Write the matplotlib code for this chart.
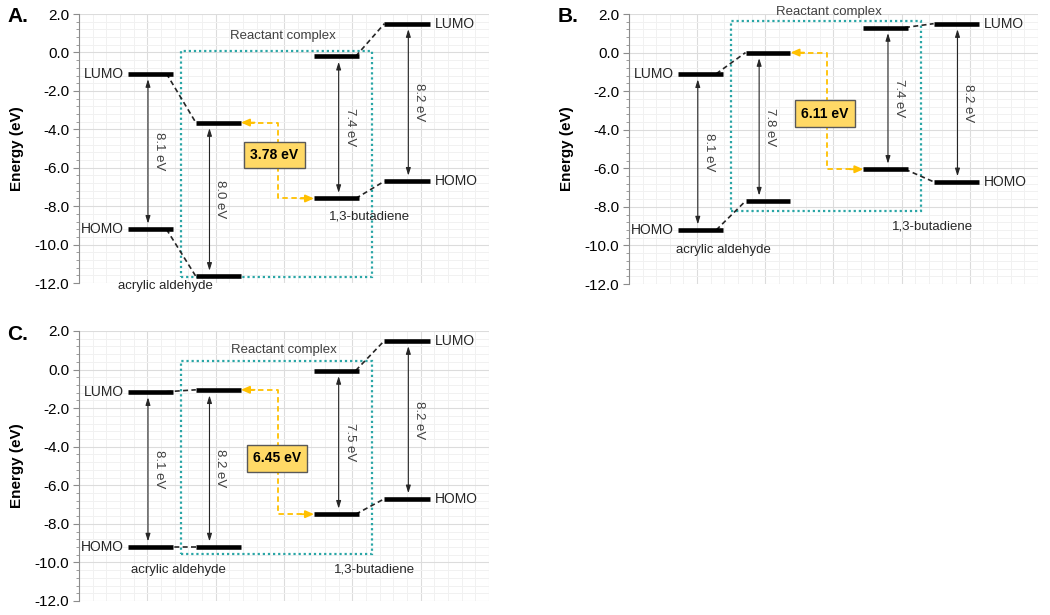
import matplotlib.pyplot as plt
from matplotlib.patches import Rectangle
from matplotlib.ticker import MultipleLocator, FormatStrFormatter

plt.rcParams["font.family"] = ["Liberation Sans", "DejaVu Sans"]
plt.rcParams["axes.unicode_minus"] = False

# energy levels (eV), one entry per panel A, B, C
panel_names = ["A.", "B.", "C."]
acrylic_lumo = [-1.1, -1.1, -1.15]
acrylic_homo = [-9.2, -9.2, -9.2]
complex_acr_lumo = [-3.65, 0.0, -1.05]
complex_acr_homo = [-11.65, -7.7, -9.2]
complex_but_lumo = [-0.2, 1.3, -0.05]
complex_but_homo = [-7.6, -6.05, -7.5]
butadiene_lumo = [1.5, 1.5, 1.5]
butadiene_homo = [-6.7, -6.7, -6.7]

acrylic_gap = ["8.1 eV", "8.1 eV", "8.1 eV"]
complex_acr_gap = ["8.0 eV", "7.8 eV", "8.2 eV"]
complex_but_gap = ["7.4 eV", "7.4 eV", "7.5 eV"]
butadiene_gap = ["8.2 eV", "8.2 eV", "8.2 eV"]
transfer_gap = ["3.78 eV", "6.11 eV", "6.45 eV"]

# layout per panel
axes_rects = [
    [0.0752, 0.5398, 0.3905, 0.4374],
    [0.5990, 0.5382, 0.3895, 0.4390],
    [0.0752, 0.0228, 0.3905, 0.4390],
]
letter_pos = [(18, 16), (568, 16), (18, 334)]
layout = [
    dict(react=(2.99, 0.85), acr=(1.26, -12.15), but=(4.25, -8.52),
         box=(0.07, -11.7), tbox=(2.86, -5.34)),
    dict(react=(2.93, 2.12), acr=(1.38, -10.24), but=(4.46, -9.04),
         box=(1.65, -8.2), tbox=(2.87, -3.16)),
    dict(react=(3.0, 1.0), acr=(1.45, -10.41), but=(4.32, -10.35),
         box=(0.45, -9.58), tbox=(2.9, -4.61)),
]

BAR_X = [1.05, 2.04, 3.77, 4.80]
ARROW_X = [1.01, 1.91, 3.80, 4.82]
HALF = 0.33
TEXT = "#262626"
LEVEL_KW = dict(color="black", lw=3.3, capstyle="butt", zorder=5)


def setup_axes(ax):
    ax.set_xlim(0, 6)
    ax.set_ylim(-12, 2)
    ax.xaxis.set_major_locator(MultipleLocator(1))
    ax.xaxis.set_minor_locator(MultipleLocator(0.2))
    ax.yaxis.set_major_locator(MultipleLocator(2))
    ax.yaxis.set_minor_locator(MultipleLocator(0.4))
    ax.yaxis.set_major_formatter(FormatStrFormatter("%.1f"))
    ax.grid(which="major", color="#dcdcdc", lw=0.8)
    ax.grid(which="minor", color="#f1f1f1", lw=0.7)
    ax.set_axisbelow(True)
    for s in ["top", "right", "bottom"]:
        ax.spines[s].set_visible(False)
    ax.spines["left"].set_color("#8c8c8c")
    ax.tick_params(axis="x", which="both", length=0, labelbottom=False)
    ax.tick_params(axis="y", which="major", length=4, color="#8c8c8c",
                   labelsize=11, labelcolor="black", pad=3)
    ax.tick_params(axis="y", which="minor", length=2.5, color="#8c8c8c")


def gap_arrow(ax, x, top, bottom, label):
    ax.annotate("", xy=(x, bottom), xytext=(x, top),
                arrowprops=dict(arrowstyle="<|-|>,head_length=0.45,head_width=0.14",
                                color="#262626", lw=0.8, shrinkA=4, shrinkB=4),
                zorder=4)
    ax.text(x + 0.16, (top + bottom) / 2, label, rotation=-90,
            ha="center", va="center", fontsize=9.5, color="#404040")


def dashed_link(ax, x0, y0, x1, y1):
    ax.plot([x0, x1], [y0, y1], color="#262626", ls=(0, (3, 2)), lw=1.2, zorder=4)


def draw_panel(ax, i):
    setup_axes(ax)
    lay = layout[i]
    levels = [
        (acrylic_lumo[i], acrylic_homo[i], acrylic_gap[i]),
        (complex_acr_lumo[i], complex_acr_homo[i], complex_acr_gap[i]),
        (complex_but_lumo[i], complex_but_homo[i], complex_but_gap[i]),
        (butadiene_lumo[i], butadiene_homo[i], butadiene_gap[i]),
    ]

    # reactant complex box
    top, bottom = lay["box"]
    ax.add_patch(Rectangle((1.49, bottom), 4.29 - 1.49, top - bottom, fill=False,
                           ec="#2aa6a6", lw=1.6, ls=(0, (1, 1.3)), zorder=3))
    ax.text(*lay["react"], "Reactant complex", ha="center", va="center",
            fontsize=9.5, color="#404040")

    for bx, ax_x, (lumo, homo, gap) in zip(BAR_X, ARROW_X, levels):
        ax.hlines([lumo, homo], bx - HALF, bx + HALF, **LEVEL_KW)
        gap_arrow(ax, ax_x, lumo, homo, gap)

    # correlation lines between isolated molecules and complex
    for k in range(2):
        dashed_link(ax, BAR_X[0] + HALF - 0.1, levels[0][k], BAR_X[1] - HALF, levels[1][k])
        dashed_link(ax, BAR_X[2] + HALF - 0.05, levels[2][k], BAR_X[3] - HALF, levels[3][k])

    # HOMO/LUMO labels
    ax.text(BAR_X[0] - HALF - 0.06, levels[0][0], "LUMO", ha="right", va="center",
            fontsize=10, color=TEXT)
    ax.text(BAR_X[0] - HALF - 0.06, levels[0][1], "HOMO", ha="right", va="center",
            fontsize=10, color=TEXT)
    ax.text(BAR_X[3] + HALF + 0.08, levels[3][0], "LUMO", ha="left", va="center",
            fontsize=10, color=TEXT)
    ax.text(BAR_X[3] + HALF + 0.08, levels[3][1], "HOMO", ha="left", va="center",
            fontsize=10, color=TEXT)
    ax.text(*lay["acr"], "acrylic aldehyde", ha="center", va="center",
            fontsize=9.5, color=TEXT)
    ax.text(*lay["but"], "1,3-butadiene", ha="center", va="center",
            fontsize=9.5, color=TEXT)

    # charge transfer gap (orange path)
    vx = 2.91
    y_top = levels[1][0]
    y_bot = levels[2][1]
    x_start = BAR_X[1] + HALF
    x_end = BAR_X[2] - HALF
    orange = "#ffc000"
    ax.plot([x_start + 0.12, vx, vx, x_end - 0.12], [y_top, y_top, y_bot, y_bot],
            color=orange, ls=(0, (3, 2)), lw=1.3, zorder=4)
    for xa, xb, y in [(x_start + 0.2, x_start, y_top), (x_end - 0.2, x_end, y_bot)]:
        ax.annotate("", xy=(xb, y), xytext=(xa, y),
                    arrowprops=dict(arrowstyle="-|>,head_length=0.5,head_width=0.22",
                                    color=orange, lw=1.3, shrinkA=0, shrinkB=0),
                    zorder=4)
    ax.text(*lay["tbox"], transfer_gap[i], ha="center", va="center",
            fontsize=10, fontweight="bold", color="black", zorder=6,
            bbox=dict(boxstyle="square,pad=0.45", fc="#ffd966", ec="#595959", lw=1))


def main():
    fig = plt.figure(figsize=(10.5, 6.15), dpi=100)
    for i, rect in enumerate(axes_rects):
        ax = fig.add_axes(rect)
        draw_panel(ax, i)
        lx, ly = letter_pos[i]
        fig.text(lx / 1050, 1 - ly / 615, panel_names[i], ha="center", va="center",
                 fontsize=15, fontweight="bold")
        cy = rect[1] + rect[3] / 2
        fig.text((17 if rect[0] < 0.5 else 567) / 1050, cy, "Energy (eV)", rotation=90,
                 ha="center", va="center", fontsize=11, fontweight="bold")
    fig.savefig("out.png", dpi=100)


if __name__ == "__main__":
    main()
